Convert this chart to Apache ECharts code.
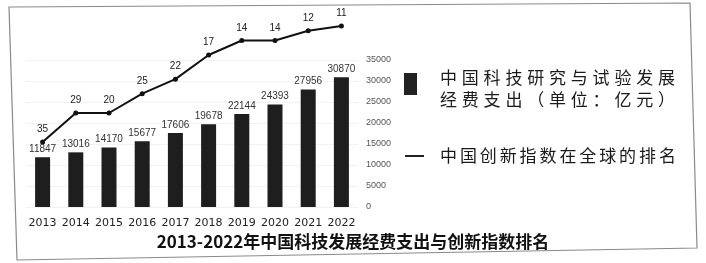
<!DOCTYPE html>
<html><head><meta charset="utf-8">
<script src="https://cdn.jsdelivr.net/npm/echarts@6/dist/echarts.min.js"></script>
<style>html,body{margin:0;padding:0;background:#fff}#c{width:706px;height:263px}</style>
</head><body><div id="c"></div>
<script>
const categories = ['2013','2014','2015','2016','2017','2018','2019','2020','2021','2022'];
const spending = [11847, 13016, 14170, 15677, 17606, 19678, 22144, 24393, 27956, 30870];
const ranking = [35, 29, 29, 25, 22, 17, 14, 14, 12, 11];
const rankLabels = ['35','29','20','25','22','17','14','14','12','11'];
const legend1a = '中国科技研究与试验发展';
const legend1b = '经费支出（单位：亿元）';
const legend2 = '中国创新指数在全球的排名';
const title = '2013-2022年中国科技发展经费支出与创新指数排名';

const FONT = '"Noto Sans CJK SC", "Noto Sans", sans-serif';
const chart = echarts.init(document.getElementById('c'), null, {renderer: 'canvas'});

function charRow(str, x0, y, step, size) {
  return str.split('').map((ch, i) => ({
    type: 'text', x: x0 + i * step, y: y,
    style: {text: ch, fontSize: size, fontFamily: FONT, fill: '#1a1a1a', textVerticalAlign: 'middle'}
  }));
}

const graphics = [
  {type: 'polygon', shape: {points: [[9,7],[690,3],[697,248],[17,260]]},
   style: {fill: 'none', stroke: '#8a8a8a', lineWidth: 1.2}, z: -1},
  {type: 'rect', shape: {x: 404, y: 73, width: 13, height: 22}, style: {fill: '#222'}},
  {type: 'line', shape: {x1: 405, y1: 156, x2: 424, y2: 156}, style: {stroke: '#222', lineWidth: 2}},
  {type: 'text', left: 'center', top: 233,
   style: {text: title, fontSize: 17, fontWeight: 'bold', fontFamily: FONT, fill: '#111'}}
].concat(charRow(legend1a, 440, 78, 21.8, 17))
 .concat(charRow(legend1b, 440, 100, 21.8, 17))
 .concat(charRow(legend2, 440, 156, 19.9, 17));

chart.setOption({
  backgroundColor: '#fff',
  animation: false,
  grid: [
    {left: 26, width: 332, top: 60, height: 147},
    {left: 26, width: 332, top: 26, height: 116}
  ],
  xAxis: [
    {type: 'category', gridIndex: 0, data: categories,
     axisLine: {show: false}, axisTick: {show: false},
     axisLabel: {color: '#222', fontSize: 11, margin: 11, interval: 0, fontFamily: 'DejaVu Sans'}},
    {type: 'category', gridIndex: 1, data: categories, show: false}
  ],
  yAxis: [
    {type: 'value', gridIndex: 0, position: 'right', min: 0, max: 35000, interval: 5000,
     axisLine: {show: false}, axisTick: {show: false},
     axisLabel: {color: '#555', fontSize: 9, margin: 8, formatter: v => String(v)},
     splitLine: {lineStyle: {color: '#f2f2f2'}}},
    {type: 'value', gridIndex: 1, inverse: true, min: 11, max: 35, show: false, splitLine: {show: false}}
  ],
  series: [
    {type: 'bar', xAxisIndex: 0, yAxisIndex: 0, data: spending, barWidth: 15,
     itemStyle: {color: '#1e1e1e'},
     label: {show: true, position: 'top', distance: 3, color: '#333', fontSize: 10}},
    {type: 'line', xAxisIndex: 1, yAxisIndex: 1, data: ranking, clip: false,
     symbol: 'circle', symbolSize: 5,
     lineStyle: {color: '#111', width: 2}, itemStyle: {color: '#111'},
     label: {show: true, position: 'top', distance: 5, color: '#222', fontSize: 10,
             formatter: p => rankLabels[p.dataIndex]}}
  ],
  graphic: graphics
});
</script></body></html>
